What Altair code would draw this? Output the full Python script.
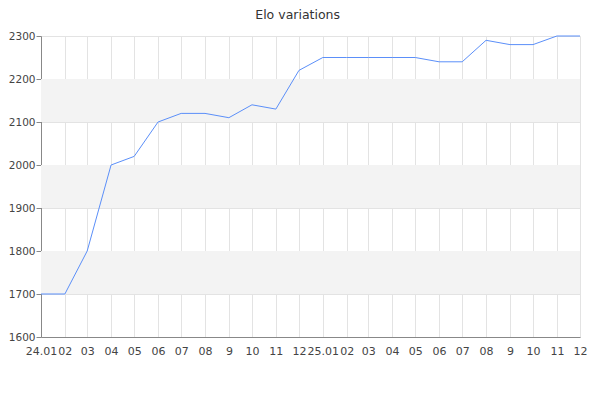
import altair as alt
import pandas as pd

months = ["2024-01-01","2024-02-01","2024-03-01","2024-04-01","2024-05-01","2024-06-01",
          "2024-07-01","2024-08-01","2024-09-01","2024-10-01","2024-11-01","2024-12-01",
          "2025-01-01","2025-02-01","2025-03-01","2025-04-01","2025-05-01","2025-06-01",
          "2025-07-01","2025-08-01","2025-09-01","2025-10-01","2025-11-01","2025-12-01"]
elo = [1700, 1700, 1800, 2000, 2020, 2100, 2120, 2120, 2110, 2140, 2130, 2220,
       2250, 2250, 2250, 2250, 2250, 2240, 2240, 2290, 2280, 2280, 2300, 2300]
band_lo = [1700, 1900, 2100]
band_hi = [1800, 2000, 2200]
y_ticks = list(range(1600, 2301, 50))

df = pd.DataFrame({"date": months, "elo": elo})
bands = pd.DataFrame({"lo": band_lo, "hi": band_hi})

W, H = 539, 301
tick_vals = [alt.DateTime(year=int(m[:4]), month=int(m[5:7]), date=1, utc=True) for m in months]

label_expr = ("utcFormat(datum.value, '%m') == '01' ? utcFormat(datum.value, '%y.%m') : "
              "(utcFormat(datum.value, '%m') == '09' ? '9' : utcFormat(datum.value, '%m'))")

band_layer = alt.Chart(bands).mark_rect(color="#f3f3f3").encode(
    x=alt.value(0), x2=alt.value(W),
    y=alt.Y("lo:Q", scale=alt.Scale(domain=[1600, 2300])),
    y2="hi:Q",
)

line = alt.Chart(df).mark_line(color="#5b8ff9", strokeWidth=1).encode(
    x=alt.X("date:T", scale=alt.Scale(type="utc", domain=[months[0], months[-1]], nice=False),
            axis=alt.Axis(title=None, values=tick_vals, labelExpr=label_expr,
                          labelOverlap=False, labelFlush=False, ticks=False,
                          labelFontSize=11,
                          gridColor="#e3e3e3", domainColor="#888888", labelPadding=8)),
    y=alt.Y("elo:Q", scale=alt.Scale(domain=[1600, 2300], nice=False, zero=False),
            axis=alt.Axis(title=None, values=y_ticks,
                          labelExpr="datum.value % 100 == 0 ? datum.label : ''",
                          gridOpacity=alt.ExprRef("datum.value % 100 == 0 ? 1 : 0"),
                          gridColor="#e3e3e3", domainColor="#888888", tickColor="#888888",
                          ticks=True, tickSize=5, labelPadding=1, labelFontSize=10.5,
                          format="d")),
)

chart = alt.layer(band_layer, line).properties(
    width=W, height=H, padding=0,
    title=alt.TitleParams("Elo variations", fontSize=12.5, fontWeight="normal", color="#333333",
                          font="DejaVu Sans", frame="bounds", offset=7, dy=-3),
).configure_view(stroke=None).configure_axis(
    labelFont="DejaVu Sans", labelColor="#444444"
)

chart.save("out.html", embed_options={"renderer": "svg", "actions": False})
